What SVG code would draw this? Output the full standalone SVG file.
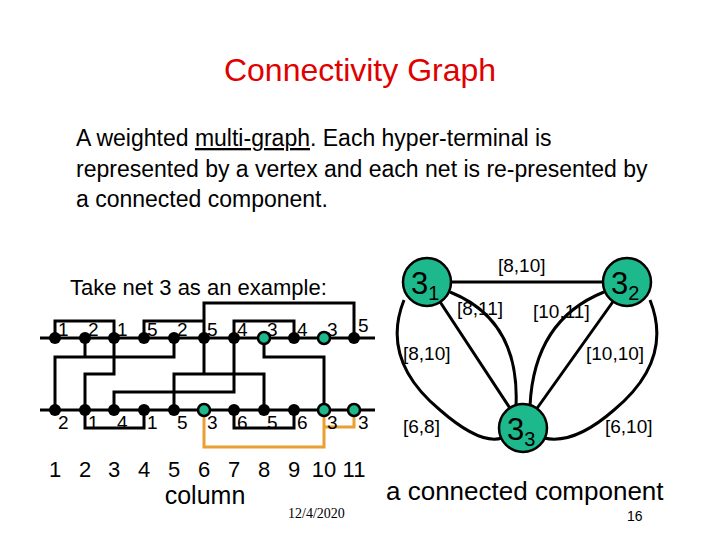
<svg xmlns="http://www.w3.org/2000/svg" width="720" height="540" viewBox="0 0 720 540">
<style>
text{font-family:"Liberation Sans",Arial,sans-serif;fill:#000}
.w{stroke:#000;stroke-width:3;fill:none}
.o{stroke:#E8A030;stroke-width:3;fill:none}
.d{fill:#000}
.g{fill:#1DB88C;stroke:#000;stroke-width:2.5}
.pl{font-size:19px}
.e{stroke:#000;stroke-width:3;fill:none}
.el{font-size:19px}
.cn{font-size:22px;text-anchor:middle}
</style>
<rect width="720" height="540" fill="#fff"/>
<text x="360" y="81" font-size="32" text-anchor="middle" style="fill:#E00000">Connectivity Graph</text>
<text x="76" y="146" font-size="23">A weighted <tspan text-decoration="underline">multi-graph</tspan>. Each hyper-terminal is</text>
<text x="76" y="177" font-size="23">represented by a vertex and each net is re-presented by</text>
<text x="76" y="207" font-size="23">a connected component.</text>
<text x="70" y="295" font-size="22">Take net 3 as an example:</text>
<g id="channel">
<path class="w" d="M40 338H375M40 410H375"/>
<path class="w" d="M55 338V321H114V338M144 338V321H204V338M234 338V321H294V338M204 338V303H354V338"/>
<path class="w" d="M55 410V357H174V338M85 338V357M114 338V374H85V410M204 338V374H174V410M174 374H264V410M234 338V392H114V410M264 338V357H324V410"/>
<path class="w" d="M85 410V428H144V410M234 410V428H294V410"/>
<path class="o" d="M204 410V447H324V410M324 427H354V410"/>
<g class="d"><circle cx="55" cy="338" r="6"/><circle cx="85" cy="338" r="6"/><circle cx="114" cy="338" r="6"/><circle cx="144" cy="338" r="6"/><circle cx="174" cy="338" r="6"/><circle cx="204" cy="338" r="6"/><circle cx="234" cy="338" r="6"/><circle cx="294" cy="338" r="6"/><circle cx="354" cy="338" r="6"/>
<circle cx="55" cy="410" r="6"/><circle cx="85" cy="410" r="6"/><circle cx="114" cy="410" r="6"/><circle cx="144" cy="410" r="6"/><circle cx="174" cy="410" r="6"/><circle cx="234" cy="410" r="6"/><circle cx="264" cy="410" r="6"/><circle cx="294" cy="410" r="6"/></g>
<circle class="g" cx="264" cy="338" r="6"/><circle class="g" cx="324" cy="338" r="6"/>
<circle class="g" cx="204" cy="410" r="6"/><circle class="g" cx="324" cy="410" r="6"/><circle class="g" cx="354" cy="410" r="6"/>
<g class="pl">
<text x="58" y="336">1</text><text x="88" y="336">2</text><text x="117" y="336">1</text><text x="147" y="336">5</text><text x="177" y="336">2</text><text x="207" y="336">5</text><text x="237" y="336">4</text><text x="267" y="336">3</text><text x="297" y="336">4</text><text x="327" y="336">3</text><text x="358" y="332">5</text>
<text x="58" y="429">2</text><text x="88" y="429">1</text><text x="117" y="429">4</text><text x="147" y="429">1</text><text x="177" y="429">5</text><text x="207" y="429">3</text><text x="237" y="429">6</text><text x="267" y="429">5</text><text x="297" y="429">6</text><text x="327" y="429">3</text><text x="358" y="429">3</text>
</g>
</g>
<g class="cn"><text x="55" y="477">1</text><text x="85" y="477">2</text><text x="114" y="477">3</text><text x="144" y="477">4</text><text x="174" y="477">5</text><text x="204" y="477">6</text><text x="234" y="477">7</text><text x="264" y="477">8</text><text x="294" y="477">9</text><text x="324" y="477">10</text><text x="354" y="477">11</text></g>
<text x="205" y="504" font-size="25" text-anchor="middle">column</text>
<text x="288" y="518" font-size="14" style="font-family:'Liberation Serif',serif">12/4/2020</text>
<g id="connectors">
<path class="e" d="M427 282H627"/>
<path class="e" d="M427 282L523 428M627 282L523 428"/>
<path class="e" d="M450 292Q520 320 516 406M604 292Q534 320 530 406"/>
<path class="e" d="M404 300Q380 360 440 410Q480 445 502 438M650 300Q674 360 614 410Q574 445 544 438"/>
</g>
<g class="el"><text x="498" y="272">[8,10]</text><text x="457" y="315">[8,11]</text><text x="533" y="318">[10,11]</text><text x="403" y="360">[8,10]</text><text x="586" y="360">[10,10]</text><text x="403" y="433">[6,8]</text><text x="605" y="433">[6,10]</text></g>
<g id="n31"><circle class="g" cx="427" cy="282" r="24"/><text x="411" y="294" font-size="31">3<tspan font-size="20" dy="6">1</tspan></text></g>
<g id="n32"><circle class="g" cx="627" cy="282" r="24"/><text x="611" y="294" font-size="31">3<tspan font-size="20" dy="6">2</tspan></text></g>
<g id="n33"><circle class="g" cx="523" cy="428" r="24"/><text x="507" y="440" font-size="31">3<tspan font-size="20" dy="6">3</tspan></text></g>
<text x="386" y="500" font-size="26">a connected component</text>
<text x="627" y="521" font-size="14">16</text>
</svg>
